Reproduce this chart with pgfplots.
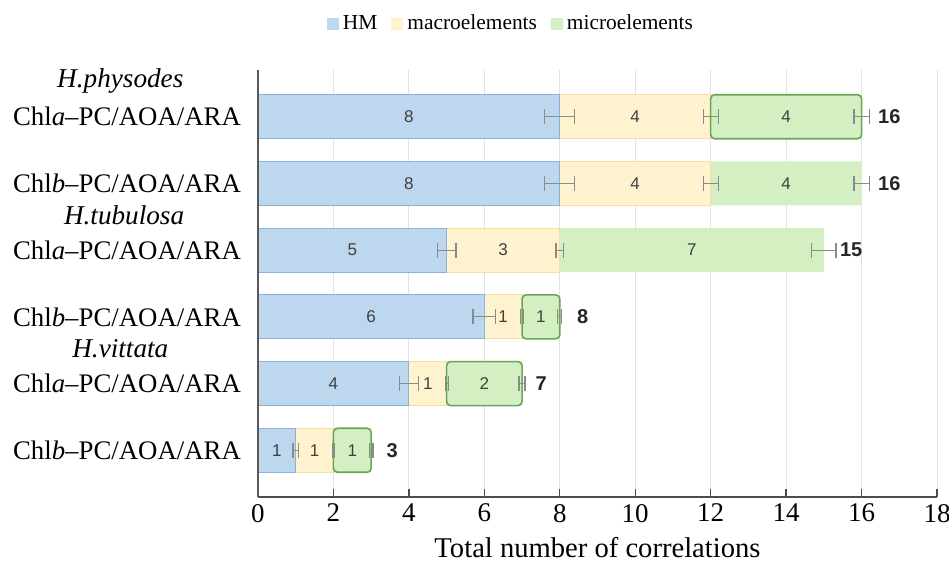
\documentclass[border=0pt]{standalone}
\usepackage{fontspec}
\setmainfont{Liberation Serif}
\newfontfamily\arial{Liberation Sans}
\usepackage{pgfplots}
\pgfplotsset{compat=1.18}
\definecolor{hmfill}{HTML}{BDD7EE}
\definecolor{hmdraw}{HTML}{8EB0DC}
\definecolor{macfill}{HTML}{FFF3CF}
\definecolor{macdraw}{HTML}{F7DE9E}
\definecolor{micfill}{HTML}{D4F0C2}
\definecolor{micdraw}{HTML}{6AA557}
\definecolor{gridc}{HTML}{E2E2E2}
\definecolor{errc}{HTML}{8A8A8A}
\pgfplotsset{base/.style={width=339.5pt,height=213.5pt,scale only axis,
  xmin=0,xmax=18,ymin=0.3,ymax=6.7,y dir=reverse,bar width=22pt}}
\begin{document}
\begin{tikzpicture}
\path[use as bounding box] (-129pt,-35pt) rectangle (345.5pt,248.5pt);
\begin{axis}[base, xbar stacked, clip=false,
  axis x line*=bottom, axis y line*=left,
  xtick={0,2,...,18}, ytick={1,...,6},
  yticklabels={Chl\textit{a}–PC/AOA/ARA,Chl\textit{b}–PC/AOA/ARA,Chl\textit{a}–PC/AOA/ARA,Chl\textit{b}–PC/AOA/ARA,Chl\textit{a}–PC/AOA/ARA,Chl\textit{b}–PC/AOA/ARA},
  xmajorgrids, grid style={color=gridc, line width=0.5pt},
  xtick align=inside, major tick length=4pt,
  x axis line style={color=black!70, line width=1pt},
  y axis line style={color=black!65, line width=0.9pt},
  ytick style={draw=none}, xtick style={color=black!70, line width=0.7pt},
  /pgf/number format/assume math mode=true,
  xticklabel style={font=\fontsize{13.5}{16}\selectfont},
  yticklabel style={font=\fontsize{13.4}{15}\selectfont, xshift=-5pt},
  xlabel={Total number of correlations},
  xlabel style={font=\fontsize{14.3}{16}\selectfont, at={(axis description cs:0.5,0)}, anchor=center, yshift=-25.5pt},
  legend style={at={(0.374,1.108)}, anchor=center, draw=none, fill=none,
    legend columns=3, font=\fontsize{10.7}{12}\selectfont,
    /tikz/every even column/.append style={column sep=5pt}},
  legend image code/.code={\path[#1,draw=none] (0pt,-3pt) rectangle (6pt,3pt);},
]
\addplot[fill=hmfill, draw=hmdraw, line width=0.5pt] coordinates {(8,1) (8,2) (5,3) (6,4) (4,5) (1,6)};
\addlegendentry{HM}
\addplot[fill=macfill, draw=macdraw, line width=0.5pt] coordinates {(4,1) (4,2) (3,3) (1,4) (1,5) (1,6)};
\addlegendentry{macroelements}
\addplot[fill=micfill, draw=none] coordinates {(4,1) (4,2) (7,3) (1,4) (2,5) (1,6)};
\addlegendentry{microelements}
\node[font=\itshape\fontsize{13.6}{15}\selectfont] at (axis cs:-3.65,0.47) {H.physodes};
\node[font=\itshape\fontsize{13.6}{15}\selectfont] at (axis cs:-3.55,2.48) {H.tubulosa};
\node[font=\itshape\fontsize{13.6}{15}\selectfont] at (axis cs:-3.65,4.48) {H.vittata};
\end{axis}
\begin{axis}[base, xbar stacked, hide axis]
\addplot[draw=none, fill=none] coordinates {(12,1) (7,4) (5,5) (2,6)};
\addplot[draw=micdraw, fill=none, line width=0.8pt, rounded corners=2pt] coordinates {(4,1) (1,4) (2,5) (1,6)};
\end{axis}
\begin{axis}[base, clip=false, hide x axis, axis y line*=left, ytick=\empty,
  y axis line style={color=black!65, line width=0.9pt}]
\addplot[draw=none, mark=none,
  error bars/.cd, x dir=both, x explicit, error mark=|,
  error bar style={draw=errc, line width=0.6pt},
  error mark options={draw=errc, mark size=3.8pt, line width=0.6pt}]
  coordinates {
  (8,1) +- (0.4,0) (12,1) +- (0.2,0) (16,1) +- (0.2,0)
  (8,2) +- (0.4,0) (12,2) +- (0.2,0) (16,2) +- (0.2,0)
  (5,3) +- (0.25,0) (8,3) +- (0.1,0) (15,3) +- (0.32,0)
  (6,4) +- (0.3,0) (7,4) +- (0.04,0) (8,4) +- (0.05,0)
  (4,5) +- (0.25,0) (5,5) +- (0.04,0) (7,5) +- (0.08,0)
  (1,6) +- (0.07,0) (2,6) +- (0.03,0) (3,6) +- (0.05,0)
  };
\addplot[draw=none, mark=none, nodes near coords, point meta=explicit symbolic,
  every node near coord/.append style={anchor=center, font=\arial\fontsize{8.5}{10}\selectfont, text=black!75}]
  table[meta=l] {
  x y l
  4 1 8
  10 1 4
  14 1 4
  4 2 8
  10 2 4
  14 2 4
  2.5 3 5
  6.5 3 3
  11.5 3 7
  3 4 6
  6.5 4 1
  7.5 4 1
  2 5 4
  4.5 5 1
  6 5 2
  0.5 6 1
  1.5 6 1
  2.5 6 1
  };
\addplot[draw=none, mark=none, nodes near coords, point meta=explicit symbolic,
  every node near coord/.append style={anchor=west, inner sep=0pt, font=\arial\bfseries\fontsize{10}{12}\selectfont, text=black!85}]
  table[meta=l] {
  x y l
  16.43 1 16
  16.43 2 16
  15.42 3 15
  8.45 4 8
  7.35 5 7
  3.4 6 3
  };
\end{axis}
\end{tikzpicture}
\end{document}
